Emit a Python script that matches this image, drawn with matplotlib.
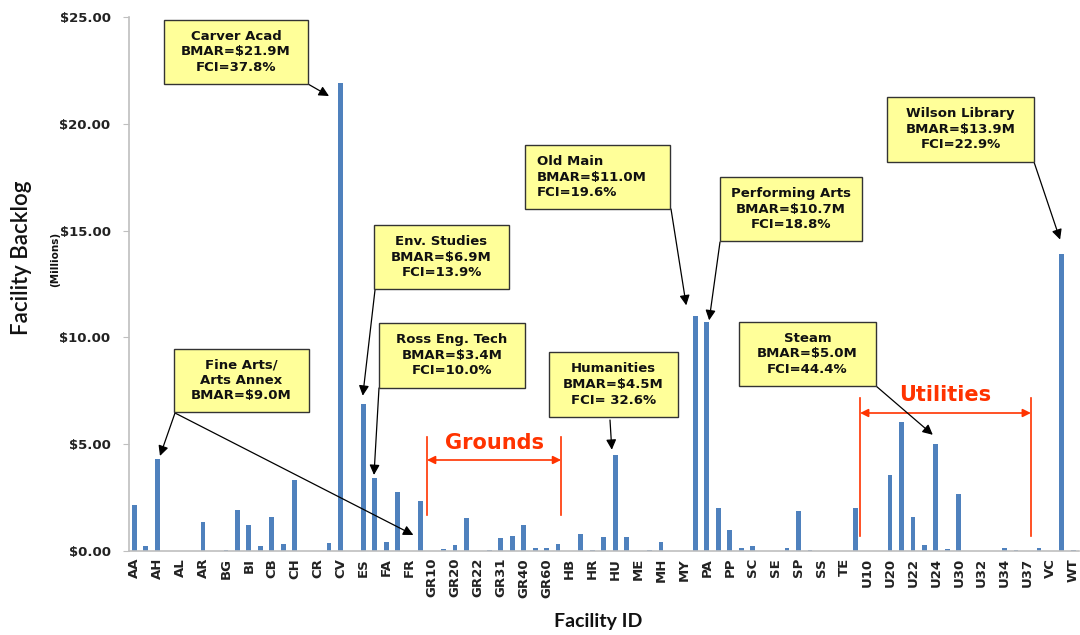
import numpy as np
import matplotlib
matplotlib.use("Agg")
import matplotlib.pyplot as plt
from matplotlib.patches import Rectangle

# ---------------- data ----------------
# backlog per facility (millions of $); 83 facilities, every 2nd one labelled
backlog = [2.16, 0.22, 4.3, 0.0, 0.0, 0.0, 1.36, 0.0, 0.04, 1.9,
           1.23, 0.22, 1.58, 0.33, 3.34, 0.0, 0.0, 0.37, 21.9, 0.0,
           6.9, 3.4, 0.41, 2.77, 0.0, 2.36, 0.0, 0.1, 0.28, 1.53,
           0.0, 0.07, 0.62, 0.7, 1.23, 0.12, 0.16, 0.33, 0.0, 0.78,
           0.03, 0.67, 4.5, 0.67, 0.0, 0.03, 0.41, 0.0, 0.0, 11.0,
           10.7, 2.03, 0.98, 0.15, 0.22, 0.0, 0.0, 0.16, 1.89, 0.05,
           0.0, 0.02, 0.0, 2.03, 0.0, 0.0, 3.58, 6.06, 1.58, 0.28,
           5.0, 0.1, 2.67, 0.02, 0.0, 0.0, 0.15, 0.03, 0.0, 0.16,
           0.0, 13.9, 0.05]
tick_labels = ["AA", "AH", "AL", "AR", "BG", "BI", "CB", "CH", "CR", "CV",
               "ES", "FA", "FR", "GR10", "GR20", "GR22", "GR31", "GR40", "GR60", "HB",
               "HR", "HU", "ME", "MH", "MY", "PA", "PP", "SC", "SE", "SP",
               "SS", "TE", "U10", "U20", "U22", "U24", "U30", "U32", "U34", "U37",
               "VC", "WT"]
yticks = [0, 5, 10, 15, 20, 25]

# callouts: text, box (px: x0,y0,x1,y1), arrow start (px), arrow target (data), align
callouts = [
    ("Carver Acad\nBMAR=$21.9M\nFCI=37.8%", (164, 20, 308, 84), [((308, 84), (17.0, 21.3))], "center"),
    ("Env. Studies\nBMAR=$6.9M\nFCI=13.9%", (374, 225, 509, 289), [((375, 290), (19.95, 7.27))], "center"),
    ("Ross Eng. Tech\nBMAR=$3.4M\nFCI=10.0%", (379, 323, 525, 388), [((379, 388), (20.93, 3.56))], "center"),
    ("Fine Arts/\nArts Annex\nBMAR=$9.0M", (174, 349, 309, 412),
     [((175, 413), (2.24, 4.45)), ((175, 413), (24.37, 0.75))], "center"),
    ("Old Main\nBMAR=$11.0M\nFCI=19.6%", (525, 145, 670, 209), [((671, 209), (48.2, 11.5))], "left"),
    ("Performing Arts\nBMAR=$10.7M\nFCI=18.8%", (720, 177, 862, 241), [((720, 242), (50.2, 10.8))], "center"),
    ("Humanities\nBMAR=$4.5M\nFCI= 32.6%", (549, 352, 678, 417), [((610, 420), (41.7, 4.74))], "center"),
    ("Steam\nBMAR=$5.0M\nFCI=44.4%", (739, 322, 876, 386), [((876, 386), (69.73, 5.44))], "center"),
    ("Wilson Library\nBMAR=$13.9M\nFCI=22.9%", (887, 97, 1034, 162), [((1034, 162), (80.85, 14.58))], "center"),
]

W, H = 1080, 635
fig = plt.figure(figsize=(W / 100, H / 100), dpi=100)
fig.patch.set_facecolor("white")

ax_l, ax_r, ax_t, ax_b = 128.6, 1079.0, 17.0, 551.0
ax = fig.add_axes([ax_l / W, 1 - ax_b / H, (ax_r - ax_l) / W, (ax_b - ax_t) / H])

x = np.arange(len(backlog))
ax.bar(x, backlog, width=0.42, color="#4F81BD", zorder=2)
ax.set_xlim(-0.5, len(backlog) - 0.5)
ax.set_ylim(0, 25)

ax.set_yticks(yticks)
ax.set_yticklabels([f"${v:.2f}" for v in yticks], fontsize=9.5, fontweight="bold",
                   family="DejaVu Sans", color="#222222")
ax.set_xticks(x[::2])
ax.set_xticklabels(tick_labels, rotation=90, fontsize=9.5, fontweight="bold",
                   family="DejaVu Sans", color="#222222")
ax.tick_params(axis="y", length=4, color="#BFBFBF", pad=9)
ax.tick_params(axis="x", length=0, pad=5)
for s in ["top", "right"]:
    ax.spines[s].set_visible(False)
for s in ["left", "bottom"]:
    ax.spines[s].set_color("#BFBFBF")
    ax.spines[s].set_linewidth(1.2)


def fx(px):
    return px / W


def fy(py):
    return 1 - py / H


# axis titles
fig.text(fx(22), fy(258), "Facility Backlog", rotation=90, ha="center", va="center",
         fontsize=16, family="Lato", fontweight="semibold", color="#111111")
fig.text(fx(55), fy(259), "(Millions)", rotation=90, ha="center", va="center",
         fontsize=7.5, fontweight="bold", family="DejaVu Sans", color="#111111")
fig.text(fx(598), fy(621), "Facility ID", ha="center", va="center",
         fontsize=14, family="Lato", fontweight="bold", color="#111111")

# group brackets
red = "#FF3300"
groups = [("Grounds", 25.56, 37.27, 437, 515, 460, 443),
          ("Utilities", 63.38, 78.3, 398, 536, 413, 395)]
for name, gx0, gx1, ytop, ybot, yarr, ytxt in groups:
    for gx in (gx0, gx1):
        ax.plot([gx, gx], [(ax_b - ybot) / 21.36, (ax_b - ytop) / 21.36], color=red,
                lw=1.2, zorder=3, clip_on=False)
    ya = (ax_b - yarr) / 21.36
    ax.annotate("", xy=(gx0, ya), xytext=(gx1, ya),
                arrowprops=dict(arrowstyle="<|-|>", color=red, lw=1.2,
                                mutation_scale=12, shrinkA=0, shrinkB=0), zorder=3)
    ax.text((gx0 + gx1) / 2, (ax_b - ytxt) / 21.36, name, ha="center", va="center",
            fontsize=15, fontweight="bold", color=red, family="DejaVu Sans", zorder=3)

# callouts
for text, (x0, y0, x1, y1), arrows, align in callouts:
    for (sx, sy), target in arrows:
        ax.annotate("", xy=target, xycoords="data",
                    xytext=(fx(sx), fy(sy)), textcoords="figure fraction",
                    arrowprops=dict(arrowstyle="-|>", color="black", lw=0.9,
                                    mutation_scale=15, shrinkA=0, shrinkB=0),
                    zorder=4)
    rect = Rectangle((fx(x0), fy(y1)), fx(x1) - fx(x0), fy(y0) - fy(y1),
                     transform=fig.transFigure, facecolor="#FFFF99",
                     edgecolor="#333333", lw=1.0, zorder=5)
    fig.add_artist(rect)
    if align == "left":
        fig.text(fx(x0 + 12), fy((y0 + y1) / 2), text, ha="left", va="center",
                 fontsize=9.5, fontweight="bold", family="DejaVu Sans",
                 linespacing=1.25, color="#111111", zorder=6)
    else:
        fig.text(fx((x0 + x1) / 2), fy((y0 + y1) / 2), text, ha="center", va="center",
                 multialignment="center", fontsize=9.5, fontweight="bold",
                 family="DejaVu Sans", linespacing=1.25, color="#111111", zorder=6)

fig.savefig("out.png", dpi=100)
